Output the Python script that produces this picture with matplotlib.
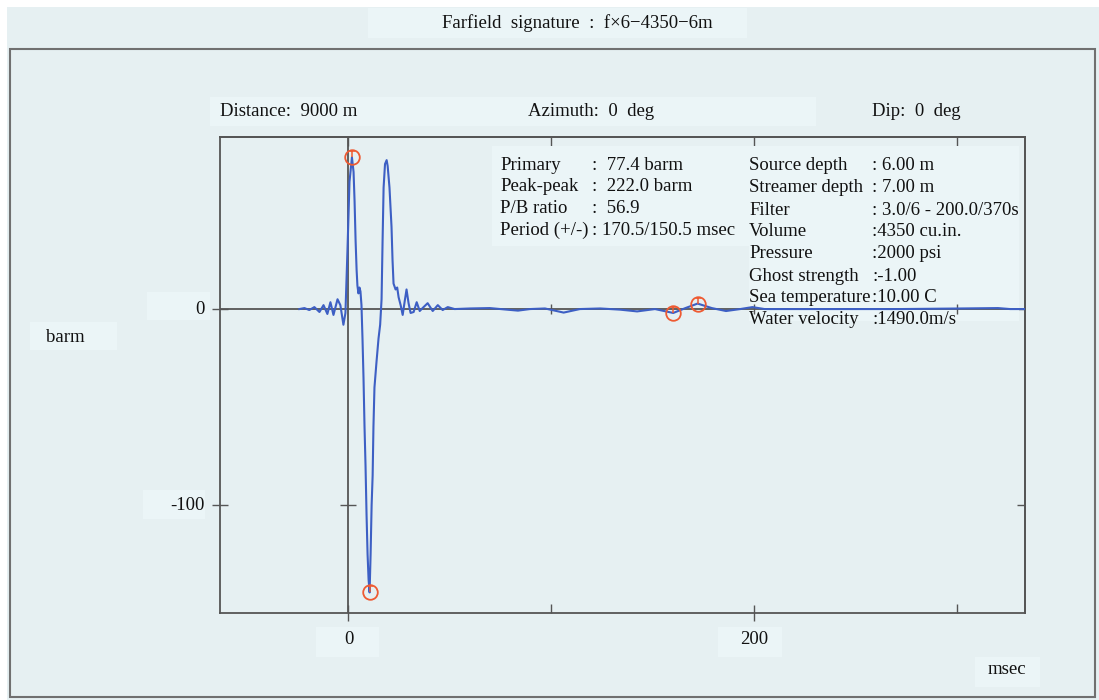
import matplotlib
matplotlib.use("Agg")
import matplotlib.pyplot as plt
from matplotlib.patches import Rectangle
from matplotlib.path import Path

# ---------------- data ----------------
time_ms = [-24.2, -21.7, -19.3, -16.8, -14.3, -12.3, -10.4, -8.9, -7.4, -5.4, -4.0,
           -2.5, -1.5, -0.5, 0.5, 1.7, 2.5, 3.0, 3.5, 4.0, 4.4, 4.9, 5.4, 5.9, 6.4,
           6.9, 7.4, 7.9, 8.4, 8.9, 9.4, 9.9, 10.4, 10.9, 11.4, 11.9, 12.3, 12.8,
           13.8, 14.8, 15.6, 16.3, 16.8, 17.3, 18.0, 18.8, 19.3, 20.2, 21.2, 21.7,
           22.2, 23.2, 24.0, 24.7, 25.7, 26.7, 27.7, 28.6, 29.6, 30.6, 32.1, 33.6,
           35.1, 36.5, 39.0, 41.5, 44.0, 46.4, 48.9, 52.3, 59.8, 69.6, 77.0, 83.5,
           89.4, 96.8, 106.0, 114.0, 124.0, 133.8, 142.2, 151.0, 160.0, 166.0,
           172.0, 179.0, 186.0, 193.0, 199.0, 205.0, 223.0, 247.0, 272.0, 302.0,
           320.0, 326.0, 334.0]
pressure_barm = [0.0, 0.5, -0.5, 1.0, -1.5, 2.0, -2.5, 3.5, -3.0, 5.0, 2.0,
                 -8.0, -2.0, 30.0, 65.0, 77.4, 70.0, 55.0, 35.0, 20.0, 12.0, 8.0,
                 11.0, 9.0, 2.0, -15.0, -35.0, -60.0, -80.0, -105.0, -125.0, -138.0,
                 -144.6, -125.0, -100.0, -85.0, -60.0, -40.0, -27.0, -15.0, -8.0,
                 5.0, 35.0, 62.0, 74.0, 76.0, 73.0, 62.0, 42.0, 25.0, 13.0, 10.0,
                 11.0, 6.0, 2.0, -3.0, 4.0, 10.0, 3.0, -2.0, -1.5, 3.5, -1.0, 0.5,
                 3.0, -1.0, 2.0, -0.5, 1.0, 0.0, 0.3, 0.5, -0.2, -0.8, 0.0, 0.3,
                 -1.8, 0.0, 0.3, -0.3, -1.2, 0.0, -2.0, 0.5, 2.8, 0.5, -1.0, 0.0,
                 1.0, 0.0, 0.0, 0.0, 0.0, 0.3, 0.5, 0.0, 0.0]
marker_t = [1.7, 10.4, 160.0, 172.0]
marker_v = [77.4, -144.6, -2.0, 2.8]

x_major = [0, 200]
x_minor = [100, 300]
x_labels = ["0", "200"]
y_major = [0, -100]
y_labels = ["0", "-100"]

title = "Farfield  signature  :  f×6−4350−6m"
header = ["Distance:  9000 m", "Azimuth:  0  deg", "Dip:  0  deg"]
stat_names = ["Primary", "Peak-peak", "P/B ratio", "Period (+/-)"]
stat_values = [":  77.4 barm", ":  222.0 barm", ":  56.9", ": 170.5/150.5 msec"]
param_names = ["Source depth", "Streamer depth", "Filter", "Volume", "Pressure",
               "Ghost strength", "Sea temperature", "Water velocity"]
param_values = [": 6.00 m", ": 7.00 m", ": 3.0/6 - 200.0/370s", ":4350 cu.in.",
                ":2000 psi", ":-1.00", ":10.00 C", ":1490.0m/s"]

# ---------------- style ----------------
W, H = 1099, 700
BG = "#e6f0f2"
LIGHT = "#ebf5f7"
LINE = "#3d5fc4"
AXC = "#555555"
RED = "#ee5a32"
FONT = "Liberation Serif"
FS = 13.5

fig = plt.figure(figsize=(W / 100, H / 100), dpi=100)
fig.patch.set_facecolor("white")


def fx(x):
    return x / W


def fy(y):
    return 1 - y / H


def frect(x0, y0, x1, y1, fc, ec="none", lw=0, z=0):
    fig.patches.append(Rectangle((fx(x0), fy(y1)), fx(x1) - fx(x0), fy(y0) - fy(y1),
                                 transform=fig.transFigure, facecolor=fc,
                                 edgecolor=ec, linewidth=lw, zorder=z))


def ftext(x, y, s, ha="left", va="center", size=FS):
    fig.text(fx(x), fy(y), s, ha=ha, va=va, fontsize=size, family=FONT,
             color="#111111", zorder=5)


# backgrounds
frect(7, 7, W, H, BG)
frect(368, 8, 747, 38, LIGHT, z=1)
frect(10, 49, 1095, 697, "none", ec="#707070", lw=1.5, z=2)
frect(210, 97, 816, 126, LIGHT, z=1)
frect(316, 627, 379, 657, LIGHT, z=1)
frect(718, 627, 782, 657, LIGHT, z=1)
frect(975, 657, 1040, 687, LIGHT, z=1)
frect(30, 322, 117, 350, LIGHT, z=1)
frect(147, 292, 210, 320, LIGHT, z=1)
frect(143, 490, 205, 519, LIGHT, z=1)

# texts outside the axes
ftext(577, 23, title, ha="center")
ftext(220, 112, header[0])
ftext(591, 112, header[1], ha="center")
ftext(961, 112, header[2], ha="right")
ftext(65, 337, "barm", ha="center")
ftext(1007, 669, "msec", ha="center")

# ---------------- axes ----------------
ax = fig.add_axes([fx(220), fy(613), fx(1025) - fx(220), fy(137) - fy(613)])
ax.set_facecolor(BG)
ax.set_zorder(3)
ax.patch.set_alpha(0)
ax.set_xlim(-63.3, 333.3)
ax.set_ylim(-155.1, 87.8)
for sp in ax.spines.values():
    sp.set_color(AXC)
    sp.set_linewidth(1.3)

# light boxes behind stats
ax.add_patch(Rectangle((70.5, 32), 127, 51, facecolor=LIGHT, edgecolor="none", zorder=0.5))
ax.add_patch(Rectangle((197.5, -6), 133, 89, facecolor=LIGHT, edgecolor="none", zorder=0.5))

# zero line and t=0 line
ax.axhline(0, color=AXC, lw=1.3, zorder=1)
ax.axvline(0, color=AXC, lw=1.3, zorder=1)
ax.plot(x_minor + [200], [0, 0, 0], ls="none", marker="|", ms=7, mew=1.0, color=AXC, zorder=1)
ax.plot([0], [-100], ls="none", marker="_", ms=12, mew=1.0, color=AXC, zorder=1)

# waveform
ax.plot(time_ms, pressure_barm, color=LINE, lw=1.5, zorder=3)
ax.plot(marker_t, marker_v, ls="none", marker="o", ms=10.5, mfc="none", mec=RED,
        mew=1.3, zorder=4)
tee = Path([(-0.45, 1.0), (0.45, 1.0), (0.0, 1.0), (0.0, 0.0)],
           [Path.MOVETO, Path.LINETO, Path.MOVETO, Path.LINETO])
ax.plot(marker_t, marker_v, ls="none", marker=tee, ms=8, mfc="none", mec=RED,
        mew=1.1, zorder=4)

# ticks: bottom/left cross the frame, top/right point inward
ax.set_xticks(x_major)
ax.set_xticks(x_minor, minor=True)
ax.set_yticks(y_major)
ax.set_xticklabels([])
ax.set_yticklabels([])
ax.tick_params(axis="x", which="major", direction="inout", length=12, width=1.0,
               color=AXC, top=False, bottom=True)
ax.tick_params(axis="x", which="minor", direction="in", length=6.5, width=1.0,
               color=AXC, top=False, bottom=True)
ax.tick_params(axis="y", which="major", direction="inout", length=11, width=1.0,
               color=AXC, left=True, right=False)
ax.tick_params(axis="y", which="minor", left=False, right=False)

top = ax.secondary_xaxis("top")
top.set_xticks(x_major + x_minor)
top.set_xticklabels([])
top.tick_params(direction="in", length=6.5, width=1.0, color=AXC)
top.spines["top"].set_color(AXC)
top.spines["top"].set_linewidth(1.3)
right = ax.secondary_yaxis("right")
right.set_yticks(y_major)
right.set_yticklabels([])
right.tick_params(direction="in", length=6, width=1.0, color=AXC)
right.spines["right"].set_color(AXC)
right.spines["right"].set_linewidth(1.3)

# tick labels as text
for t, lab in zip(x_major, x_labels):
    ax.annotate(lab, xy=(t, 0), xycoords=("data", "axes fraction"),
                xytext=(0, -26), textcoords="offset pixels", ha="center",
                va="center", fontsize=FS, family=FONT, color="#111111",
                annotation_clip=False)
for v, lab in zip(y_major, y_labels):
    ax.annotate(lab, xy=(0, v), xycoords=("axes fraction", "data"),
                xytext=(-15, 0), textcoords="offset pixels", ha="right",
                va="center", fontsize=FS, family=FONT, color="#111111",
                annotation_clip=False)

# stats text
for i, (n, v) in enumerate(zip(stat_names, stat_values)):
    y = 165 + i * 21.7
    ftext(500, y, n)
    ftext(592, y, v)
for i, (n, v) in enumerate(zip(param_names, param_values)):
    y = 166 + i * 22.0
    ftext(749, y, n)
    ftext(872, y, v)

fig.savefig("out.png", dpi=100, facecolor=fig.get_facecolor())
